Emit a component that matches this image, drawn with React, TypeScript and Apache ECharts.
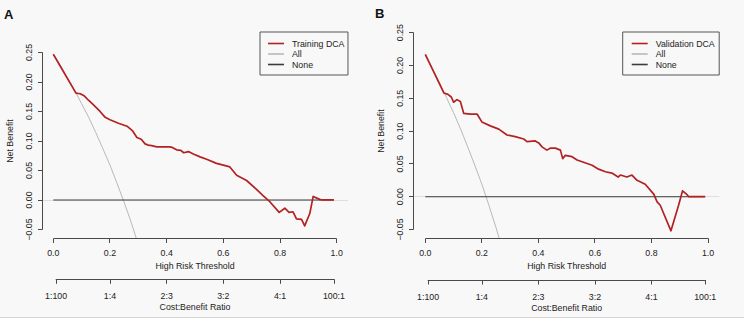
import React, { useEffect, useRef } from "react";
import * as echarts from "echarts";

// ---------- data ----------
const xTickValues = [0, 0.2, 0.4, 0.6, 0.8, 1.0];
const yTickValues = [-0.05, 0, 0.05, 0.1, 0.15, 0.2, 0.25];
const costBenefitLabels = ["1:100", "1:4", "2:3", "3:2", "4:1", "100:1"];
const costBenefitCost = [1, 1, 2, 3, 4, 100];
const costBenefitBenefit = [100, 4, 3, 2, 1, 1];

const trainingThresholds = [
  0.0, 0.08, 0.095, 0.11, 0.124, 0.14, 0.165, 0.183, 0.2, 0.23, 0.26, 0.28, 0.295, 0.31, 0.324, 0.335,
  0.347, 0.365, 0.41, 0.42, 0.435, 0.45, 0.46, 0.477, 0.494, 0.518, 0.541, 0.576, 0.6, 0.623, 0.647,
  0.682, 0.717, 0.741, 0.764, 0.797, 0.817, 0.832, 0.846, 0.858, 0.876, 0.887, 0.905, 0.917, 0.94,
  0.95, 0.99,
];
const trainingNetBenefit = [
  0.247, 0.181, 0.18, 0.176, 0.169, 0.162, 0.15, 0.14, 0.136, 0.13, 0.125, 0.117, 0.106, 0.103, 0.095,
  0.093, 0.092, 0.09, 0.09, 0.089, 0.085, 0.084, 0.08, 0.082, 0.078, 0.073, 0.069, 0.062, 0.059, 0.056,
  0.042, 0.033, 0.018, 0.007, -0.003, -0.021, -0.014, -0.021, -0.02, -0.032, -0.033, -0.044, -0.023,
  0.006, 0.001, 0.0, 0.0,
];
const trainingAllThresholds = [0, 0.025, 0.05, 0.075, 0.1, 0.125, 0.15, 0.175, 0.2, 0.225, 0.25, 0.275, 0.3];
const trainingAllNetBenefit = [0.247, 0.228, 0.207, 0.186, 0.163, 0.14, 0.114, 0.087, 0.059, 0.028, -0.004, -0.038, -0.076];

const validationThresholds = [
  0.0, 0.066, 0.08, 0.092, 0.1, 0.112, 0.124, 0.136, 0.159, 0.183, 0.2, 0.23, 0.26, 0.289, 0.318, 0.348,
  0.36, 0.389, 0.401, 0.413, 0.43, 0.442, 0.46, 0.478, 0.486, 0.495, 0.519, 0.537, 0.59, 0.613, 0.637,
  0.66, 0.682, 0.69, 0.713, 0.731, 0.749, 0.778, 0.808, 0.82, 0.831, 0.869, 0.896, 0.91, 0.926, 0.932,
  0.99,
];
const validationNetBenefit = [
  0.217, 0.158, 0.156, 0.152, 0.144, 0.148, 0.145, 0.127, 0.126, 0.126, 0.114, 0.108, 0.103, 0.094,
  0.0915, 0.088, 0.084, 0.085, 0.082, 0.076, 0.071, 0.074, 0.074, 0.071, 0.058, 0.063, 0.061, 0.056,
  0.048, 0.042, 0.038, 0.036, 0.03, 0.033, 0.03, 0.033, 0.025, 0.019, 0.004, -0.008, -0.013, -0.052,
  -0.013, 0.009, 0.003, 0.0, 0.0,
];
const validationAllThresholds = [0, 0.025, 0.05, 0.075, 0.1, 0.125, 0.15, 0.175, 0.2, 0.225, 0.25, 0.275];
const validationAllNetBenefit = [0.215, 0.195, 0.174, 0.151, 0.128, 0.103, 0.076, 0.048, 0.019, -0.013, -0.047, -0.083];

const noneThresholds = [0, 0.99];
const noneNetBenefit = [0, 0];

// ---------- styling ----------
const FONT = "'Liberation Sans', Arial, Helvetica, sans-serif";
const TXT = "#222222";
const AX = "#4a4a4a";
const RED = "#b22222";
const ALL = "#b8b8b8";
const NONE = "#3c3c3c";
const FS = 8.8;
const TICK_LEN = 4.5;

const zip = (xs: number[], ys: number[]) => xs.map((x, i) => [x, ys[i]]);
const costPositions = costBenefitCost.map((c, i) => c / (c + costBenefitBenefit[i]));

const fmtY = (v: number) => {
  const r = Math.round(v * 100) / 100;
  return (r < 0 ? "\u2212" : "") + Math.abs(r).toFixed(2);
};
const fmtX = (v: number) => (Math.round(v * 10) / 10).toFixed(1);
const fmtCost = (v: number) => {
  const i = costPositions.findIndex((p) => Math.abs(p - v) < 1e-6);
  return i >= 0 ? costBenefitLabels[i] : "";
};

type PanelCfg = {
  base: number;
  plot: { left: number; top: number; width: number; height: number; ymin: number; ymax: number };
  ticks: { left: number; top: number; width: number; height: number };
  xOffset: number;
  yOffset: number;
  costOffset: number;
  name: string;
  thresholds: number[];
  netBenefit: number[];
  allT: number[];
  allNB: number[];
  legend: { left: number; padding: number[] };
};

const GRIDS_PER_PANEL = 4;

function buildPanel(cfg: PanelCfg) {
  const b = cfg.base;
  const t = cfg.ticks;
  const w1 = t.width / 101;
  const tickRect = { left: t.left, top: t.top, width: t.width, height: t.height };
  const grids = [
    { left: cfg.plot.left, top: cfg.plot.top, width: cfg.plot.width, height: cfg.plot.height },
    { ...tickRect },
    { left: t.left + w1, top: t.top, width: t.width - 2 * w1, height: t.height },
    { ...tickRect },
  ];
  const axLine = () => ({ show: true, onZero: false, lineStyle: { color: AX, width: 1, type: "solid" } });
  const axTick = () => ({ show: true, length: TICK_LEN, inside: false, lineStyle: { color: AX, width: 1 } });
  const lblStyle = () => ({ fontSize: FS, color: TXT, fontFamily: FONT });
  const hidden = (gridIndex: number, min = 0, max = 1) => ({
    gridIndex, type: "value", min, max, show: false,
    axisLine: { show: false, onZero: false }, axisTick: { show: false }, axisLabel: { show: false },
    splitLine: { show: false },
  });
  const xAxes: any[] = [
    hidden(b, -0.04, 1.04),
    {
      gridIndex: b + 1, type: "value", min: xTickValues[0], max: xTickValues[xTickValues.length - 1],
      position: "bottom", offset: cfg.xOffset,
      axisLine: { show: false, onZero: false }, axisTick: { show: false }, splitLine: { show: false },
      axisLabel: { ...lblStyle(), margin: 10.6, customValues: xTickValues, formatter: fmtX },
      name: "High Risk Threshold", nameLocation: "middle", nameGap: 23.6, nameMoveOverlap: false,
      nameTextStyle: lblStyle(),
    },
    {
      gridIndex: b + 2, type: "value", min: costPositions[0], max: costPositions[costPositions.length - 1],
      position: "bottom", offset: cfg.costOffset,
      axisLine: axLine(), axisTick: { ...axTick(), customValues: costPositions }, splitLine: { show: false },
      axisLabel: { ...lblStyle(), margin: 12.4, customValues: costPositions, formatter: fmtCost },
      name: "Cost:Benefit Ratio", nameLocation: "middle", nameGap: 23.3, nameMoveOverlap: false,
      nameTextStyle: lblStyle(),
    },
    hidden(b + 3),
  ];
  const yAxes: any[] = [
    hidden(b, cfg.plot.ymin, cfg.plot.ymax),
    hidden(b + 1),
    hidden(b + 2),
    {
      gridIndex: b + 3, type: "value", min: yTickValues[0], max: yTickValues[yTickValues.length - 1],
      position: "left", offset: cfg.yOffset,
      axisLine: { show: false, onZero: false }, axisTick: { show: false }, splitLine: { show: false },
      axisLabel: { ...lblStyle(), margin: 9, rotate: 90, customValues: yTickValues, formatter: fmtY },
      name: "Net Benefit", nameLocation: "middle", nameGap: 27.6, nameMoveOverlap: false,
      nameTextStyle: lblStyle(),
    },
  ];
  const series: any[] = [
    {
      type: "line", name: "All", xAxisIndex: b, yAxisIndex: b, data: zip(cfg.allT, cfg.allNB),
      symbol: "none", showSymbol: false, color: ALL, itemStyle: { color: ALL },
      lineStyle: { color: ALL, width: 1 }, z: 2,
      markLine: {
        silent: true, z: 1, symbol: ["none", "none"], label: { show: false },
        lineStyle: { color: "#dedede", width: 1, type: "solid" }, data: [{ yAxis: 0 }],
        emphasis: { disabled: true },
      },
    },
    {
      type: "line", name: "None", xAxisIndex: b, yAxisIndex: b, data: zip(noneThresholds, noneNetBenefit),
      symbol: "none", showSymbol: false, color: NONE, itemStyle: { color: NONE },
      lineStyle: { color: NONE, width: 1.1 }, z: 3,
    },
    {
      type: "line", name: cfg.name, xAxisIndex: b, yAxisIndex: b, data: zip(cfg.thresholds, cfg.netBenefit),
      symbol: "none", showSymbol: false, color: RED, itemStyle: { color: RED },
      lineStyle: { color: RED, width: 1.7, join: "round" }, z: 4,
    },
  ];
  const legend = {
    orient: "vertical", left: cfg.legend.left, top: 32, padding: cfg.legend.padding,
    itemWidth: 16, itemHeight: 1.6, itemGap: 0, icon: "rect", borderColor: "#555555", borderWidth: 1,
    borderRadius: 0, selectedMode: false, data: [cfg.name, "All", "None"],
    textStyle: { fontSize: FS, color: TXT, fontFamily: FONT, lineHeight: 10.5, padding: [0, 0, 0, 3] },
  };
  return { grids, xAxes, yAxes, series, legend };
}

// axis lines + ticks of the two rulers, placed on the ruler grids' linear scales
function rulerGraphics(cfg: PanelCfg) {
  const t = cfg.ticks;
  const els: any[] = [];
  const snap = (v: number) => Math.round(v - 0.5) + 0.5;
  const st = { stroke: AX, lineWidth: 1 };
  const xMin = xTickValues[0];
  const xMax = xTickValues[xTickValues.length - 1];
  const yMin = yTickValues[0];
  const yMax = yTickValues[yTickValues.length - 1];
  const yLine = snap(t.top + t.height + cfg.xOffset);
  const xs = xTickValues.map((v) => snap(t.left + ((v - xMin) / (xMax - xMin)) * t.width));
  els.push({ type: "line", silent: true, z: 50, shape: { x1: xs[0], y1: yLine, x2: xs[xs.length - 1], y2: yLine }, style: st });
  xs.forEach((x) =>
    els.push({ type: "line", silent: true, z: 50, shape: { x1: x, y1: yLine, x2: x, y2: yLine + TICK_LEN }, style: st })
  );
  const xLine = snap(t.left - cfg.yOffset);
  const ys = yTickValues.map((v) => snap(t.top + t.height - ((v - yMin) / (yMax - yMin)) * t.height));
  els.push({ type: "line", silent: true, z: 50, shape: { x1: xLine, y1: ys[0], x2: xLine, y2: ys[ys.length - 1] }, style: st });
  ys.forEach((y) =>
    els.push({ type: "line", silent: true, z: 50, shape: { x1: xLine - TICK_LEN, y1: y, x2: xLine, y2: y }, style: st })
  );
  return els;
}

export default function App() {
  const ref = useRef<HTMLDivElement>(null);
  useEffect(() => {
    if (!ref.current) return;
    const chart = echarts.init(ref.current, undefined, { renderer: "svg" });
    const cfg1: PanelCfg = {
      base: 0,
      plot: { left: 41.97, top: 25.3, width: 306.07, height: 212.2, ymin: -0.0636, ymax: 0.296 },
      ticks: { left: 53.3, top: 52.5, width: 283.4, height: 177 },
      xOffset: 8.5, yOffset: 11.3, costOffset: 49.8,
      name: "Training DCA", thresholds: trainingThresholds, netBenefit: trainingNetBenefit,
      allT: trainingAllThresholds, allNB: trainingAllNetBenefit,
      legend: { left: 260, padding: [6.25, 3.5, 5.25, 8] },
    };
    const cfg2: PanelCfg = {
      base: GRIDS_PER_PANEL,
      plot: { left: 414.0, top: 25.3, width: 305.3, height: 212.2, ymin: -0.0622, ymax: 0.2613 },
      ticks: { left: 425.3, top: 32.7, width: 282.7, height: 196.8 },
      xOffset: 8.8, yOffset: 12.3, costOffset: 50.5,
      name: "Validation DCA", thresholds: validationThresholds, netBenefit: validationNetBenefit,
      allT: validationAllThresholds, allNB: validationAllNetBenefit,
      legend: { left: 622.7, padding: [6.25, 4.5, 5.25, 9] },
    };
    const p1 = buildPanel(cfg1);
    const p2 = buildPanel(cfg2);
    chart.setOption({
      animation: false,
      backgroundColor: "#f8f8f8",
      grid: [...p1.grids, ...p2.grids],
      xAxis: [...p1.xAxes, ...p2.xAxes],
      yAxis: [...p1.yAxes, ...p2.yAxes],
      series: [...p1.series, ...p2.series],
      legend: [p1.legend, p2.legend],
      graphic: {
        elements: [
          { type: "rect", shape: { x: 0, y: 317.5, width: 744, height: 3 }, style: { fill: "#ffffff" }, silent: true },
          { type: "line", shape: { x1: 0, y1: 317.5, x2: 744, y2: 317.5 }, style: { stroke: "#d6d6d6", lineWidth: 1 }, silent: true },
          { type: "text", x: 4, y: 14, style: { text: "A", font: `bold 13px ${FONT}`, fill: "#111", verticalAlign: "middle" } },
          { type: "text", x: 375, y: 13.5, style: { text: "B", font: `bold 13px ${FONT}`, fill: "#111", verticalAlign: "middle" } },
          ...rulerGraphics(cfg1),
          ...rulerGraphics(cfg2),
        ],
      },
    });
    return () => chart.dispose();
  }, []);
  return <div ref={ref} style={{ position: "fixed", left: 0, top: 0, width: 744, height: 320 }} />;
}
